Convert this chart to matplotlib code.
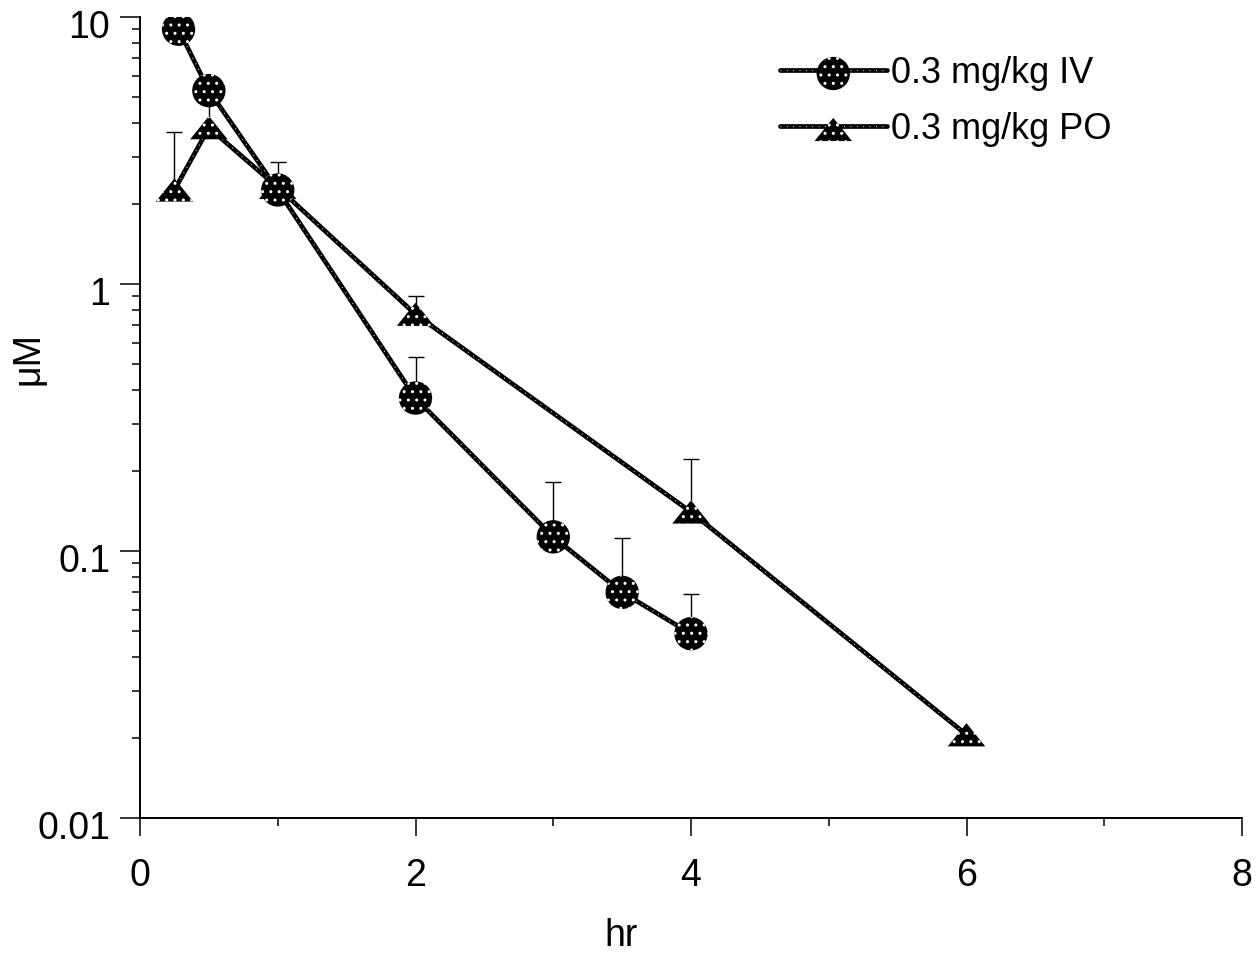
import matplotlib
matplotlib.use("Agg")
import matplotlib.pyplot as plt
import numpy as np
from matplotlib.ticker import FixedLocator, LogLocator, NullFormatter, FixedFormatter
from matplotlib.transforms import ScaledTranslation
from matplotlib.legend_handler import HandlerTuple

plt.rcParams['font.family'] = ['Liberation Sans', 'DejaVu Sans']
plt.rcParams['hatch.color'] = 'white'
plt.rcParams['hatch.linewidth'] = 1.0

# Plasma concentration (µM) vs time (hr), mean with upper SD
iv_time = [0.28, 0.5, 1, 2, 3, 3.5, 4]
iv_conc = [9.0, 5.3, 2.25, 0.374, 0.113, 0.070, 0.049]
iv_sd = [0.0, 0.0, 0.61, 0.16, 0.068, 0.042, 0.020]

po_time = [0.25, 0.5, 1, 2, 4, 6]
po_conc = [2.25, 3.85, 2.3, 0.77, 0.14, 0.0205]
po_sd = [1.46, 1.15, 0.0, 0.13, 0.081, 0.0]

labels = ['0.3 mg/kg IV', '0.3 mg/kg PO']
x_ticks = [0, 2, 4, 6, 8]
y_ticks = [0.01, 0.1, 1, 10]
y_ticklabels = ['0.01', '0.1', '1', '10']

W, H, DPI = 1256, 961, 100
fig = plt.figure(figsize=(W / DPI, H / DPI), dpi=DPI)
ax = fig.add_axes([140 / W, 1 - 818 / H, (1242 - 140) / W, (818 - 17) / H])

ax.set_yscale('log')
ax.set_xlim(0, 8)
ax.set_ylim(0.01, 10)

# wide, short triangle marker
tri = [(0, 0.62), (-1, -0.62), (1, -0.62), (0, 0.62)]


def draw_series(t, c, sd, marker, msize):
    ax.errorbar(t, c, yerr=[np.zeros(len(sd)), sd], fmt='none', ecolor='black',
                elinewidth=1.0, capsize=5.5, capthick=1.0, zorder=2)
    line, = ax.plot(t, c, color='black', lw=3.4, zorder=3, solid_capstyle='round')
    dots, = ax.plot(t, c, color='white', lw=0.9, zorder=3.5, dashes=(0.6, 4.5))
    sc = ax.scatter(t, c, s=msize ** 2, marker=marker, c='black',
                    edgecolors='face', hatch='..', zorder=4, linewidths=0)
    return line, dots, sc


h_iv = draw_series(iv_time, iv_conc, iv_sd, 'o', 24)
h_po = draw_series(po_time, po_conc, po_sd, tri, 27)

for s in ['top', 'right']:
    ax.spines[s].set_visible(False)
for s in ['left', 'bottom']:
    ax.spines[s].set_linewidth(1.4)

ax.xaxis.set_major_locator(FixedLocator(x_ticks))
ax.xaxis.set_minor_locator(FixedLocator([1, 3, 5, 7]))
ax.yaxis.set_major_locator(FixedLocator(y_ticks))
ax.yaxis.set_major_formatter(FixedFormatter(y_ticklabels))
ax.yaxis.set_minor_locator(LogLocator(base=10, subs=np.arange(2, 10)))
ax.yaxis.set_minor_formatter(NullFormatter())

ax.tick_params(axis='x', which='major', direction='out', length=13, width=1.1,
               pad=16, labelsize=27)
ax.tick_params(axis='x', which='minor', direction='out', length=5.5, width=1.1)
ax.tick_params(axis='y', which='major', direction='out', length=14.5, width=1.1,
               pad=7, labelsize=27)
ax.tick_params(axis='y', which='minor', direction='out', length=6, width=1.1)

off = ScaledTranslation(0, -7 / DPI, fig.dpi_scale_trans)
for lab in ax.get_yticklabels():
    lab.set_transform(lab.get_transform() + off)

ax.set_xlabel('hr', fontsize=27, va='center')
ax.xaxis.set_label_coords((621 - 140) / 1102, (818 - 936) / 801)
ax.set_ylabel('μM', fontsize=27, va='center')
ax.yaxis.set_label_coords((28 - 140) / 1102, (818 - 358) / 801)

leg = ax.legend([tuple(h_iv), tuple(h_po)], labels,
                handler_map={tuple: HandlerTuple(ndivide=1)},
                loc='upper left', bbox_to_anchor=(780 / W, 1 - 56 / H),
                bbox_transform=fig.transFigure, frameon=False, fontsize=26,
                handlelength=2.95, handletextpad=0.12, borderpad=0,
                borderaxespad=0, labelspacing=0.58, scatterpoints=1)

fig.savefig('out.png', dpi=DPI)
